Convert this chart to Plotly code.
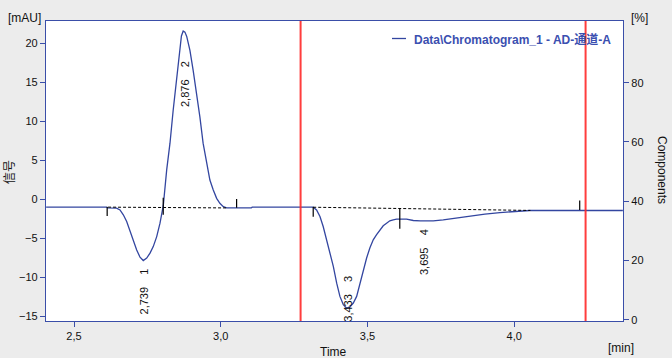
import plotly.graph_objects as go

# ---------------- data ----------------
time_min = [2.405, 2.612, 2.615, 2.645, 2.6567, 2.668, 2.6795, 2.6908, 2.702, 2.7136,
            2.7249, 2.736, 2.7477, 2.759, 2.770, 2.7818, 2.793, 2.8043, 2.8158, 2.827,
            2.838, 2.8497, 2.861, 2.866, 2.872, 2.878, 2.884, 2.895, 2.906, 2.918,
            2.929, 2.940, 2.952, 2.963, 2.9745, 2.986, 2.997, 3.0087, 3.020, 3.104,
            3.107, 3.315, 3.3265, 3.338, 3.349, 3.361, 3.372, 3.3835, 3.395, 3.406,
            3.4175, 3.429, 3.440, 3.4516, 3.463, 3.474, 3.4855, 3.497, 3.508, 3.5195,
            3.531, 3.542, 3.5535, 3.565, 3.576, 3.5875, 3.599, 3.633, 3.656, 3.680,
            3.724, 3.758, 3.791, 3.838, 3.900, 3.951, 4.000, 4.053, 4.370]
signal_mau = [-1.02, -1.02, -1.12, -1.14, -1.37, -2.00, -2.86, -4.15, -5.20, -6.50,
              -7.43, -7.86, -7.55, -6.91, -6.07, -4.79, -3.07, -0.80, 3.75, 7.17,
              11.43, 15.70, 19.50, 20.90, 21.55, 21.40, 20.85, 19.05, 16.50, 13.50,
              10.50, 7.14, 4.58, 2.45, 1.18, 0.11, -0.53, -0.95, -1.10, -1.12,
              -1.02, -1.02, -1.37, -2.22, -3.50, -5.20, -6.90, -8.60, -10.75, -12.45,
              -13.50, -13.95, -13.80, -13.30, -12.45, -10.75, -9.00, -7.53, -6.25, -5.20,
              -4.55, -3.92, -3.40, -3.07, -2.77, -2.64, -2.56, -2.56, -2.73, -2.78,
              -2.78, -2.64, -2.47, -2.17, -1.91, -1.71, -1.58, -1.45, -1.45]

# integration baselines: (start time, start value, end time, end value)
baseline_t0 = [2.616, 3.315]
baseline_v0 = [-1.02, -1.03]
baseline_t1 = [3.025, 4.055]
baseline_v1 = [-1.12, -1.44]

# integration event markers: time, upper value, lower value
event_t = [2.613, 2.804, 3.054, 3.315, 3.610, 4.223]
event_hi = [-1.0, 0.17, 0.04, -1.0, -1.2, -0.18]
event_lo = [-2.15, -2.0, -1.1, -2.25, -3.8, -1.37]

# peaks
peak_rt = [2.739, 2.876, 3.433, 3.695]
peak_no = [1, 2, 3, 4]
peak_label_top = [-8.6, 18.0, -9.56, -3.6]

# red marker lines
marker_t = [3.272, 4.243]

x_ticks = [2.5, 3.0, 3.5, 4.0]
x_ticktext = ["2,5", "3,0", "3,5", "4,0"]
y_ticks = [-15, -10, -5, 0, 5, 10, 15, 20]
y2_ticks = [0, 20, 40, 60, 80]

# ---------------- styling ----------------
FONT = "Liberation Sans, Noto Sans CJK SC, sans-serif"
BLUE = "#3346a0"
AXIS = "#3a4ea8"

fig = go.Figure()

fig.add_trace(go.Scatter(x=time_min, y=signal_mau, mode="lines",
                         line=dict(color=BLUE, width=1.3), showlegend=False,
                         hoverinfo="skip"))

bx, by = [], []
for a, b, c, d in zip(baseline_t0, baseline_v0, baseline_t1, baseline_v1):
    bx += [a, c, None]
    by += [b, d, None]
fig.add_trace(go.Scatter(x=bx, y=by, mode="lines",
                         line=dict(color="black", width=1, dash="3px,2px"),
                         showlegend=False, hoverinfo="skip"))

ex, ey = [], []
for t, hi, lo in zip(event_t, event_hi, event_lo):
    ex += [t, t, None]
    ey += [hi, lo, None]
fig.add_trace(go.Scatter(x=ex, y=ey, mode="lines",
                         line=dict(color="black", width=1.2),
                         showlegend=False, hoverinfo="skip"))

# dummy trace on the secondary axis
fig.add_trace(go.Scatter(x=[2.5], y=[None], yaxis="y2", mode="lines",
                         showlegend=False, hoverinfo="skip"))

for t in marker_t:
    fig.add_shape(type="line", xref="x", yref="paper", x0=t, x1=t, y0=0, y1=1,
                  line=dict(color="rgba(255,40,40,0.9)", width=2), layer="above")

for rt, n, top in zip(peak_rt, peak_no, peak_label_top):
    txt = f"{rt:.3f}".replace(".", ",") + "    " + str(n)
    fig.add_annotation(x=rt, y=top, xref="x", yref="y", text=txt, textangle=-90,
                       showarrow=False, xanchor="center", yanchor="top",
                       font=dict(family=FONT, size=11, color="#111111"))

W, H = 672, 358
L, R, T, B = 46, 49, 21, 37
pw, ph = W - L - R, H - T - B


def px(xp):
    return (xp - L) / pw


def py(yp):
    return (H - B - yp) / ph


# legend drawn as text + swatch
fig.add_shape(type="line", xref="paper", yref="paper", x0=px(392), x1=px(406),
              y0=py(38.5), y1=py(38.5), line=dict(color=BLUE, width=1.3))
fig.add_annotation(x=px(412), y=py(39), xref="paper", yref="paper",
                   text="<b>Data\\Chromatogram_1 - AD-通道-A</b>", showarrow=False,
                   xanchor="left", yanchor="middle",
                   font=dict(family=FONT, size=12, color="#3b4fb0"))

axis_titles = [
    ("[mAU]", 24, 18, 0, 12),
    ("[%]", 639, 18, 0, 12),
    ("Time", 333, 352, 0, 12),
    ("[min]", 621, 348, 0, 12),
    ("信号", 10, 172, -90, 12),
    ("Components", 662, 170, 90, 12),
]
for text, xp, yp, ang, sz in axis_titles:
    fig.add_annotation(x=px(xp), y=py(yp), xref="paper", yref="paper", text=text,
                       showarrow=False, xanchor="center", yanchor="middle",
                       textangle=ang, font=dict(family=FONT, size=sz, color="#111111"))

fig.update_layout(
    width=W, height=H,
    margin=dict(l=L, r=R, t=T, b=B, pad=0),
    paper_bgcolor="#ececec", plot_bgcolor="white",
    font=dict(family=FONT, size=11, color="#111111"),
    showlegend=False,
    xaxis=dict(range=[2.4046, 4.3705], tickvals=x_ticks, ticktext=x_ticktext,
               showgrid=False, zeroline=False, showline=True, linecolor=AXIS,
               linewidth=1.3, mirror=True, ticks="outside", ticklen=5,
               tickcolor=AXIS, tickwidth=1.3),
    yaxis=dict(range=[-15.6, 22.82], tickvals=y_ticks, showgrid=False,
               zeroline=False, showline=True, linecolor=AXIS, linewidth=1.3,
               mirror=True, ticks="outside", ticklen=5, tickcolor=AXIS,
               tickwidth=1.3),
    yaxis2=dict(range=[-0.4, 100.8], tickvals=y2_ticks, overlaying="y",
                side="right", showgrid=False, zeroline=False, showline=True,
                linecolor=AXIS, linewidth=1.3, ticks="outside", ticklen=5,
                tickcolor=AXIS, tickwidth=1.3),
)

fig.write_html("out.html",
               config={"displayModeBar": False},
               post_script="document.body.style.margin='0';"
                           "document.body.style.overflow='hidden';")
